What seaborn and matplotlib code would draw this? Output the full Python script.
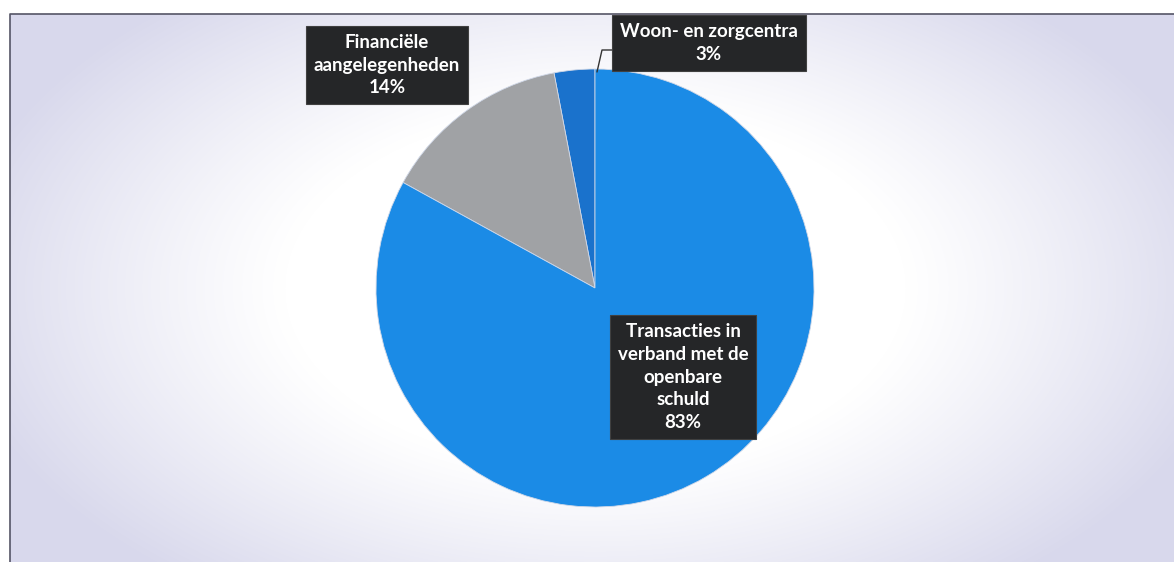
import numpy as np
import matplotlib
matplotlib.use("Agg")
import matplotlib.pyplot as plt
import seaborn as sns

# ---- data ----
categories = ["Woon- en zorgcentra", "Financiële\naangelegenheden",
              "Transacties in\nverband met de\nopenbare\nschuld"]
shares = [3, 14, 83]
colors = ["#1a72cc", "#a0a2a5", "#1b8be6"]

sns.set_theme(style="white")
plt.rcParams['font.family'] = ['Lato', 'DejaVu Sans']

W, H = 1174, 562
fig = plt.figure(figsize=(W / 100, H / 100), dpi=100)
fig.patch.set_facecolor("white")

# background gradient inside frame
bg = fig.add_axes([0, 0, 1, 1], zorder=0)
bg.set_xlim(0, W)
bg.set_ylim(H, 0)
bg.axis("off")
yy, xx = np.mgrid[0:H, 0:W]
cx, cy = 595, 288
r = np.sqrt(((xx - cx) / 620.0) ** 2 + ((yy - cy) / 360.0) ** 2)
t = np.clip((r - 0.5) / 0.55, 0, 1) ** 1.1
white = np.array([1.0, 1.0, 1.0])
lav = np.array([216, 216, 236]) / 255.0
img = white[None, None, :] * (1 - t[..., None]) + lav[None, None, :] * t[..., None]
left, top = 10, 14
img[:top, :, :] = 1.0
img[:, :left, :] = 1.0
bg.imshow(img, extent=[0, W, H, 0], aspect="auto", interpolation="bilinear")
bg.plot([left, left, W], [H, top, top], color="#555566", lw=1.2)

# pie axes
R = 219
ax = fig.add_axes([(cx - R) / W, (H - cy - R) / H, 2 * R / W, 2 * R / H], zorder=1)
ax.pie(shares, colors=colors, startangle=90, counterclock=True,
       wedgeprops=dict(edgecolor="#d0d8e8", linewidth=0.6))
ax.set_xlim(-1, 1)
ax.set_ylim(-1, 1)
ax.set_aspect("auto")
ax.axis("off")


def px(x, y):
    return (x - cx) / R, (cy - y) / R


box = dict(boxstyle="square,pad=0.42", facecolor="#252628", edgecolor="#404040", lw=0.8)
label_pos = [(709, 43), (387, 65), (683, 377)]
for cat, s, (lx, ly) in zip(categories, shares, label_pos):
    x, y = px(lx, ly)
    ax.text(x, y, f"{cat}\n{s}%", ha="center", va="center", color="white",
            fontsize=13.5, fontweight="bold", linespacing=1.42, bbox=box,
            clip_on=False, zorder=5)

# leader line for small slice
lx, ly = zip(px(612, 50), px(602, 50), px(597, 72))
ax.plot(lx, ly, color="#333333", lw=1.0, clip_on=False, zorder=4)

fig.savefig("out.png", dpi=100)
